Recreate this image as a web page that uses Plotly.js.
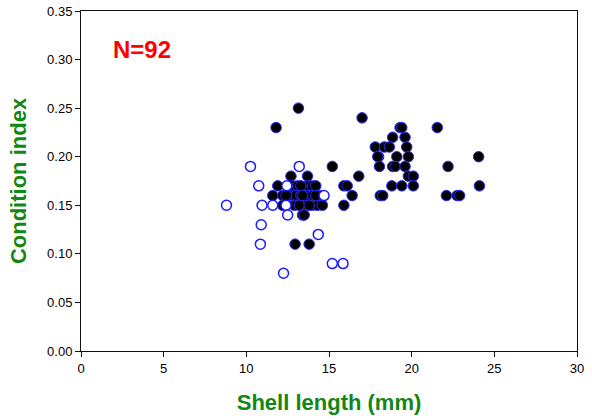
<!DOCTYPE html>
<html>
<head>
<meta charset="utf-8">
<script src="https://cdn.plot.ly/plotly-3.0.1.min.js"></script>
<style>html,body{margin:0;padding:0;background:#fff;}#chart{width:592px;height:419px;}</style>
</head>
<body>
<div id="chart"></div>
<script>
// Filled (black) points
const filledX = [13.15, 11.8, 15.2,
  12.7, 13.7,
  11.9, 12.8, 13.1, 13.7, 14.0, 14.2,
  11.6, 12.2, 12.6, 13.0, 13.3, 13.7, 14.0, 14.5,
  12.2, 12.9, 13.5, 14.0, 14.3, 14.6,
  13.4, 13.5,
  12.95, 13.8,
  17.0, 16.8, 15.9, 16.1, 16.4, 15.9,
  19.3, 19.4, 18.85, 19.6, 17.8, 18.35, 18.65, 19.7, 18.0, 19.1, 19.8,
  18.05, 18.85, 19.0, 19.6, 19.8, 20.1, 18.8, 19.4, 20.1, 18.1, 18.25,
  21.55, 22.2, 22.1, 22.75, 22.9, 24.05, 24.1,
  12.4, 13.2, 13.3, 14.2, 13.8, 17.95, 13.4];
const filledY = [0.25, 0.23, 0.19,
  0.18, 0.18,
  0.17, 0.17, 0.17, 0.17, 0.17, 0.17,
  0.16, 0.16, 0.16, 0.16, 0.16, 0.16, 0.16, 0.16,
  0.15, 0.15, 0.15, 0.15, 0.15, 0.15,
  0.14, 0.14,
  0.11, 0.11,
  0.24, 0.18, 0.17, 0.17, 0.16, 0.15,
  0.23, 0.23, 0.22, 0.22, 0.21, 0.21, 0.21, 0.21, 0.20, 0.20, 0.20,
  0.19, 0.19, 0.19, 0.19, 0.18, 0.18, 0.17, 0.17, 0.17, 0.16, 0.16,
  0.23, 0.19, 0.16, 0.16, 0.16, 0.20, 0.17,
  0.16, 0.15, 0.17, 0.16, 0.15, 0.20, 0.16];

// Open (white) points
const openX = [8.8, 10.25, 10.75, 10.95, 10.9, 10.85, 11.6, 12.25, 12.45, 12.4, 12.5, 13.2, 14.7, 14.35, 15.2, 15.85];
const openY = [0.15, 0.19, 0.17, 0.15, 0.13, 0.11, 0.15, 0.08, 0.17, 0.15, 0.14, 0.19, 0.16, 0.12, 0.09, 0.09];

const xTicks = [0, 5, 10, 15, 20, 25, 30];
const yTicks = [0, 0.05, 0.10, 0.15, 0.20, 0.25, 0.30, 0.35];

const FONT = 'Arial, "Liberation Sans", sans-serif';

const traces = [
  {x: filledX, y: filledY, type: 'scatter', mode: 'markers',
   marker: {size: 10.5, color: '#000000', line: {color: '#2a2aff', width: 1}}, hoverinfo: 'x+y'},
  {x: openX, y: openY, type: 'scatter', mode: 'markers',
   marker: {size: 10, color: '#ffffff', line: {color: '#1a1aff', width: 1.5}}, hoverinfo: 'x+y'}
];

const layout = {
  width: 592, height: 419,
  margin: {l: 81, r: 15, t: 11, b: 68},
  paper_bgcolor: '#fff', plot_bgcolor: '#fff',
  showlegend: false,
  font: {family: FONT, color: '#000', size: 13},
  xaxis: {
    range: [0, 30], tickvals: xTicks, ticktext: xTicks.map(String),
    showgrid: false, zeroline: false,
    showline: true, linecolor: '#111', linewidth: 1, mirror: true,
    ticks: 'outside', ticklen: 5, tickcolor: '#111',
    tickfont: {family: FONT, size: 13, color: '#000'},
    title: {text: 'Shell length (mm)', font: {family: FONT, size: 22, color: '#118811', weight: 'bold'}, standoff: 20}
  },
  yaxis: {
    range: [0, 0.35], tickvals: yTicks, tickformat: '.2f',
    showgrid: false, zeroline: false,
    showline: true, linecolor: '#111', linewidth: 1, mirror: true,
    ticks: 'outside', ticklen: 5, tickcolor: '#111',
    tickfont: {family: FONT, size: 13, color: '#000'},
    title: {text: 'Condition index', font: {family: FONT, size: 22, color: '#118811', weight: 'bold'}, standoff: 14}
  },
  annotations: [
    {x: 3.7, y: 0.31, xref: 'x', yref: 'y', text: '<b>N=92</b>', showarrow: false,
     font: {family: FONT, size: 24, color: '#ff0000'}}
  ]
};

Plotly.newPlot('chart', traces, layout, {displayModeBar: false, staticPlot: true});
</script>
</body>
</html>
